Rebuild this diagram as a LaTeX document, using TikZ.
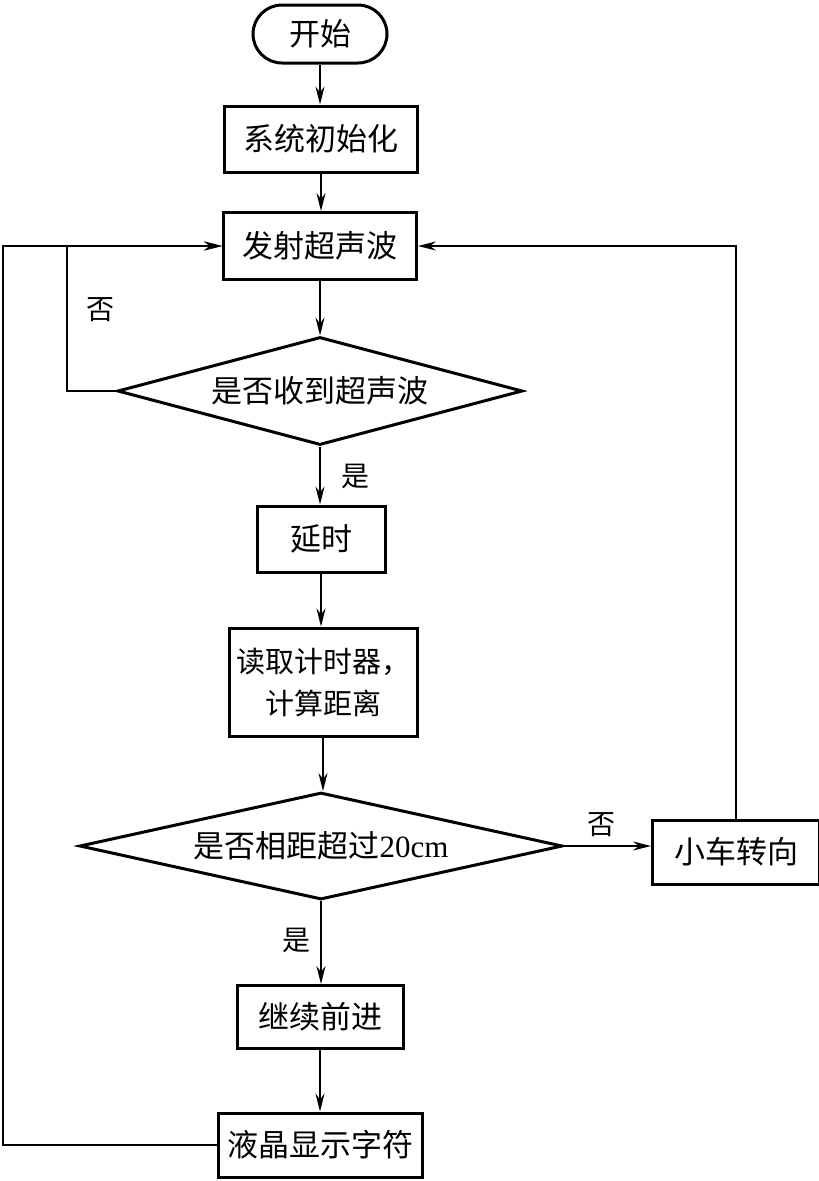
\documentclass[tikz,border=0pt]{standalone}
\usepackage{fontspec}
\setmainfont{Liberation Serif}
\newfontfamily\cjk{Noto Sans CJK SC}
\usetikzlibrary{shapes.geometric,shapes.misc,arrows.meta}

\tikzset{%
		every step/.style={
			rectangle,
			draw,
			line width=3pt,
			inner sep=0pt,
			font=\cjk\fontsize{31}{42}\selectfont
		},
		step start/.style={
			rounded rectangle
		},
		step test/.style={
			diamond,
			aspect=4
		},
		flow label/.style={
			inner sep=0pt,
			font=\cjk\fontsize{28}{32}\selectfont
		},
	}

\begin{document}
\begin{tikzpicture}[x=1pt, y=-1pt, >={Stealth[length=18pt,width=9pt,inset=6pt]}, line width=1.5pt]
			\useasboundingbox (0,0) rectangle (819,1181);
			
			% draw steps of the main column
			\node [every step/.try, step start/.try, minimum width=134pt, minimum height=58pt] (start) at (320,34) {开始};
			\node [every step/.try, minimum width=193pt, minimum height=66pt] (init) at (321,139) {系统初始化};
			\node [every step/.try, minimum width=193pt, minimum height=67pt] (emit) at (320,246) {发射超声波};
			\node [every step/.try, step test/.try, minimum width=405pt, minimum height=108pt] (echo) at (320,391) {是否收到超声波};
			\node [every step/.try, minimum width=128pt, minimum height=66pt] (delay) at (321,539) {延时};
			\node [every step/.try, minimum width=188pt, minimum height=108pt, align=center, font=\cjk\fontsize{29}{42}\selectfont] (read) at (323,682) {读取计时器，\\计算距离};
			\node [every step/.try, step test/.try, minimum width=483pt, minimum height=107pt] (near) at (321,846) {是否相距超过{\rmfamily 20cm}};
			\node [every step/.try, minimum width=166pt, minimum height=63pt] (go) at (320,1017) {继续前进};
			\node [every step/.try, minimum width=204pt, minimum height=64pt] (lcd) at (320,1145) {液晶显示字符};
			
			% draw side step
			\node [every step/.try, minimum width=167pt, minimum height=64pt] (turn) at (736,852) {小车转向};
			
			% rails of the loops
			\coordinate (leftrail) at (3,0);
			\coordinate (echorail) at (67,0);
			
			% Draw arrows down the main column
			\foreach \a/\b in {start/init, init/emit, emit/echo, echo/delay, delay/read, read/near, near/go, go/lcd}
			\draw [->] (\a.south) -- (\a.south |- \b.north);
			
			% Draw loops back to emit
			\draw [->] (echo.west) -- (echo.west -| echorail) |- (emit.west);
			\draw [->] (lcd.west) -- (lcd.west -| leftrail) |- (emit.west);
			\draw [->] (near.east) -- (turn.west |- near.east);
			\draw [->] (turn.north) |- (emit.east);
			
			% Annotate branches
			\node [flow label] (echo-no) at (100,310) {否};
			\node [flow label] (echo-yes) at (355,476) {是};
			\node [flow label] (near-no) at (601,825) {否};
			\node [flow label] (near-yes) at (296,940) {是};
			\end{tikzpicture}
\end{document}
